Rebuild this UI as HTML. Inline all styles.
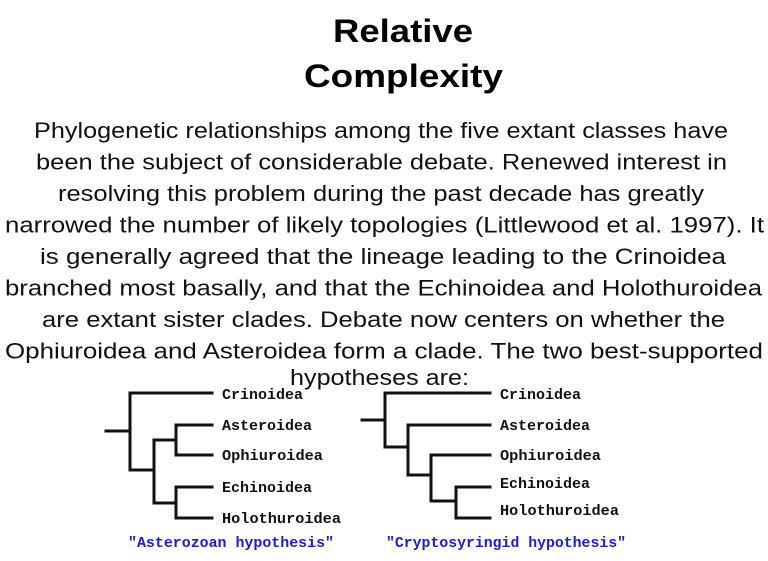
<!DOCTYPE html>
<html><head><meta charset="utf-8"><style>
html,body{margin:0;padding:0;background:#fff;}
svg{display:block;}
.t{font-family:"Liberation Sans",sans-serif;font-weight:bold;font-size:32px;fill:#000;}
.p{font-family:"Liberation Sans",sans-serif;font-size:22px;fill:#111;}
.l{font-family:"Liberation Mono",monospace;font-weight:bold;font-size:15px;fill:#111;}
.c{font-family:"Liberation Mono",monospace;font-weight:bold;font-size:15px;fill:#1a1ae0;}
</style></head><body>
<svg width="768" height="561" viewBox="0 0 768 561" xmlns="http://www.w3.org/2000/svg">
<text class="t" x="333" y="42" textLength="140" lengthAdjust="spacingAndGlyphs">Relative</text>
<text class="t" x="304" y="87" textLength="199" lengthAdjust="spacingAndGlyphs">Complexity</text>
<g class="p">
<text x="34" y="138" textLength="694" lengthAdjust="spacingAndGlyphs">Phylogenetic relationships among the five extant classes have</text>
<text x="36" y="169.5" textLength="691" lengthAdjust="spacingAndGlyphs">been the subject of considerable debate. Renewed interest in</text>
<text x="58" y="201" textLength="646" lengthAdjust="spacingAndGlyphs">resolving this problem during the past decade has greatly</text>
<text x="5" y="232.5" textLength="759" lengthAdjust="spacingAndGlyphs">narrowed the number of likely topologies (Littlewood et al. 1997). It</text>
<text x="40" y="264" textLength="686" lengthAdjust="spacingAndGlyphs">is generally agreed that the lineage leading to the Crinoidea</text>
<text x="5" y="295.5" textLength="757" lengthAdjust="spacingAndGlyphs">branched most basally, and that the Echinoidea and Holothuroidea</text>
<text x="42" y="327" textLength="683" lengthAdjust="spacingAndGlyphs">are extant sister clades. Debate now centers on whether the</text>
<text x="5" y="358.5" textLength="758" lengthAdjust="spacingAndGlyphs">Ophiuroidea and Asteroidea form a clade. The two best-supported</text>
<text x="290" y="385" textLength="179" lengthAdjust="spacingAndGlyphs">hypotheses are:</text>
</g>
<g stroke="#111" stroke-width="3" fill="none" stroke-linecap="square">
<line x1="106" y1="431" x2="130" y2="431"/>
<line x1="130" y1="393" x2="130" y2="470"/>
<line x1="130" y1="393" x2="212" y2="393"/>
<line x1="130" y1="470" x2="154" y2="470"/>
<line x1="154" y1="440" x2="154" y2="503"/>
<line x1="154" y1="440" x2="176" y2="440"/>
<line x1="154" y1="503" x2="176" y2="503"/>
<line x1="176" y1="425" x2="176" y2="455"/>
<line x1="176" y1="425" x2="212" y2="425"/>
<line x1="176" y1="455" x2="212" y2="455"/>
<line x1="176" y1="487" x2="176" y2="518"/>
<line x1="176" y1="487" x2="212" y2="487"/>
<line x1="176" y1="518" x2="212" y2="518"/>
<line x1="362" y1="420" x2="385" y2="420"/>
<line x1="385" y1="393" x2="385" y2="447"/>
<line x1="385" y1="393" x2="490" y2="393"/>
<line x1="385" y1="447" x2="408" y2="447"/>
<line x1="408" y1="425" x2="408" y2="475"/>
<line x1="408" y1="425" x2="490" y2="425"/>
<line x1="408" y1="475" x2="431" y2="475"/>
<line x1="431" y1="455" x2="431" y2="501"/>
<line x1="431" y1="455" x2="490" y2="455"/>
<line x1="431" y1="501" x2="456" y2="501"/>
<line x1="456" y1="487" x2="456" y2="518"/>
<line x1="456" y1="487" x2="490" y2="487"/>
<line x1="456" y1="518" x2="490" y2="518"/>
</g>
<g class="l">
<text x="222" y="399" textLength="81" lengthAdjust="spacingAndGlyphs">Crinoidea</text>
<text x="222" y="430" textLength="90" lengthAdjust="spacingAndGlyphs">Asteroidea</text>
<text x="222" y="460" textLength="101" lengthAdjust="spacingAndGlyphs">Ophiuroidea</text>
<text x="222" y="492" textLength="90" lengthAdjust="spacingAndGlyphs">Echinoidea</text>
<text x="222" y="523" textLength="119" lengthAdjust="spacingAndGlyphs">Holothuroidea</text>
<text x="500" y="399" textLength="81" lengthAdjust="spacingAndGlyphs">Crinoidea</text>
<text x="500" y="430" textLength="90" lengthAdjust="spacingAndGlyphs">Asteroidea</text>
<text x="500" y="460" textLength="101" lengthAdjust="spacingAndGlyphs">Ophiuroidea</text>
<text x="500" y="488" textLength="90" lengthAdjust="spacingAndGlyphs">Echinoidea</text>
<text x="500" y="515" textLength="119" lengthAdjust="spacingAndGlyphs">Holothuroidea</text>
</g>
<text class="c" x="128" y="547" textLength="206" lengthAdjust="spacingAndGlyphs">"Asterozoan hypothesis"</text>
<text class="c" x="386" y="547" textLength="240" lengthAdjust="spacingAndGlyphs">"Cryptosyringid hypothesis"</text>
</svg>
</body></html>
